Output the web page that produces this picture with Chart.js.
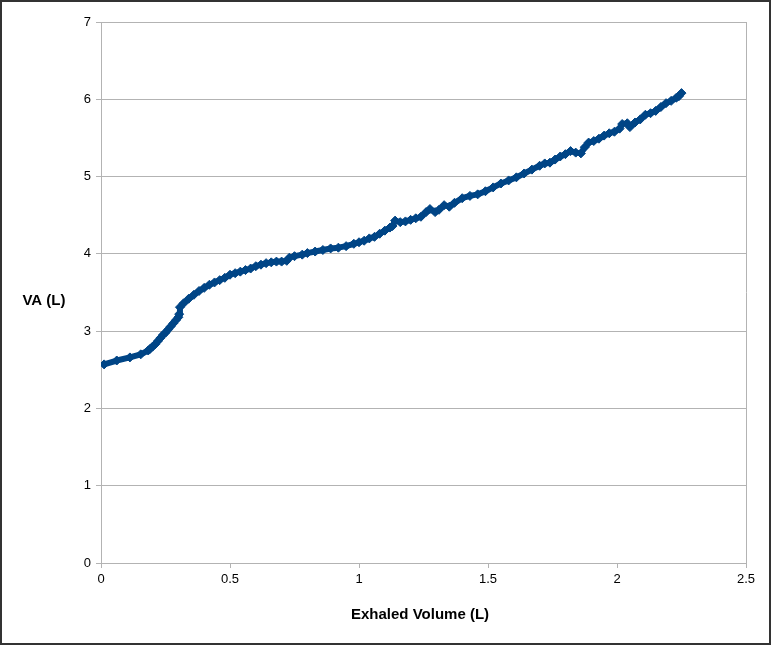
<!DOCTYPE html>
<html>
<head>
<meta charset="utf-8">
<script src="https://cdn.jsdelivr.net/npm/chart.js@4.4.0/dist/chart.umd.min.js"></script>
<style>
  html, body { margin: 0; padding: 0; background: #fff; }
  #wrap { width: 771px; height: 645px; }
</style>
</head>
<body>
<div id="wrap"><canvas id="myChart" width="771" height="645"></canvas></div>
<script>
// exhaled volume (L) and VA (L)
const exhaledVolume = [
    0.012, 0.061, 0.112, 0.154, 0.183, 0.19, 0.20, 0.21, 0.22, 0.23,
    0.24, 0.25, 0.26, 0.27, 0.28, 0.29, 0.30, 0.303, 0.306, 0.32,
    0.34, 0.36, 0.38, 0.40, 0.42, 0.44, 0.46, 0.48, 0.50, 0.52,
    0.54, 0.56, 0.58, 0.60, 0.62, 0.64, 0.66, 0.68, 0.70, 0.72,
    0.73, 0.75, 0.78, 0.80, 0.83, 0.86, 0.89, 0.92, 0.95, 0.98,
    1.00, 1.02, 1.04, 1.06, 1.08, 1.10, 1.12, 1.13, 1.14, 1.16,
    1.18, 1.20, 1.22, 1.24, 1.26, 1.275, 1.295, 1.31, 1.33, 1.35,
    1.37, 1.40, 1.43, 1.46, 1.49, 1.52, 1.55, 1.58, 1.61, 1.64,
    1.67, 1.70, 1.72, 1.74, 1.76, 1.78, 1.80, 1.82, 1.84, 1.86,
    1.875, 1.89, 1.91, 1.93, 1.95, 1.97, 1.99, 2.01, 2.02, 2.04,
    2.05, 2.07, 2.09, 2.11, 2.13, 2.15, 2.17, 2.19, 2.21, 2.23,
    2.24, 2.25
];
const alveolarVolume = [
    2.57, 2.62, 2.66, 2.70, 2.75, 2.77, 2.80, 2.83, 2.87, 2.91,
    2.95, 2.98, 3.02, 3.06, 3.10, 3.14, 3.18, 3.22, 3.31, 3.36,
    3.42, 3.47, 3.52, 3.56, 3.60, 3.63, 3.66, 3.69, 3.73, 3.75,
    3.77, 3.79, 3.81, 3.84, 3.86, 3.88, 3.89, 3.90, 3.90, 3.91,
    3.95, 3.97, 3.99, 4.01, 4.03, 4.05, 4.07, 4.08, 4.10, 4.13,
    4.15, 4.17, 4.20, 4.22, 4.26, 4.30, 4.34, 4.36, 4.43, 4.41,
    4.42, 4.44, 4.46, 4.48, 4.54, 4.58, 4.54, 4.57, 4.63, 4.61,
    4.66, 4.72, 4.75, 4.77, 4.81, 4.86, 4.91, 4.95, 4.99, 5.04,
    5.09, 5.14, 5.17, 5.18, 5.22, 5.26, 5.29, 5.33, 5.31, 5.30,
    5.38, 5.44, 5.46, 5.49, 5.53, 5.56, 5.58, 5.62, 5.68, 5.69,
    5.64, 5.70, 5.74, 5.80, 5.82, 5.85, 5.90, 5.95, 5.98, 6.02,
    6.04, 6.08
];
const xTickLabels = ['0', '0.5', '1', '1.5', '2', '2.5'];
const yTickLabels = ['0', '1', '2', '3', '4', '5', '6', '7'];
const xTitle = 'Exhaled Volume (L)';
const yTitle = 'VA (L)';

const points = exhaledVolume.map((x, i) => ({x: x, y: alveolarVolume[i]}));

const FONT = '"Liberation Sans", Arial, sans-serif';
const GRID = '#b3b3b3';
const BLUE = '#004586';

// frame, right border and the two axis titles
const extras = {
    id: 'extras',
    afterDraw(chart) {
        const c = chart.ctx;
        const a = chart.chartArea;
        c.save();
        c.strokeStyle = GRID;
        c.lineWidth = 1;
        c.beginPath();
        c.moveTo(Math.round(a.right) + 0.5, a.top);
        c.lineTo(Math.round(a.right) + 0.5, a.bottom);
        c.stroke();

        c.fillStyle = '#000';
        c.font = 'bold 15px ' + FONT;
        c.textAlign = 'center';
        c.textBaseline = 'middle';
        c.fillText(xTitle, 420, 615);
        c.fillText(yTitle, 44, 301);

        c.strokeStyle = '#333';
        c.lineWidth = 2;
        c.strokeRect(1, 1, chart.width - 2, chart.height - 2);
        c.restore();
    }
};

new Chart(document.getElementById('myChart'), {
    type: 'scatter',
    plugins: [extras],
    data: {
        datasets: [{
            data: points,
            showLine: true,
            borderColor: BLUE,
            backgroundColor: BLUE,
            borderWidth: 6,
            pointStyle: 'rectRot',
            pointRadius: 4.5,
            pointBorderWidth: 1,
            borderJoinStyle: 'round',
            tension: 0
        }]
    },
    options: {
        responsive: false,
        animation: false,
        layout: {padding: {top: 22, right: 25, left: 0, bottom: 0}},
        plugins: {legend: {display: false}, tooltip: {enabled: false}},
        scales: {
            x: {
                type: 'linear',
                min: 0,
                max: 2.5,
                afterFit: s => { s.height = 82; },
                ticks: {
                    stepSize: 0.5,
                    padding: 4,
                    color: '#000',
                    font: {family: FONT, size: 13},
                    callback: (v, i) => xTickLabels[i]
                },
                grid: {drawOnChartArea: false, drawTicks: true, tickLength: 5, color: GRID},
                border: {color: GRID}
            },
            y: {
                min: 0,
                max: 7,
                afterFit: s => { s.width = 101; },
                ticks: {
                    stepSize: 1,
                    padding: 5,
                    color: '#000',
                    font: {family: FONT, size: 13},
                    callback: (v, i) => yTickLabels[i]
                },
                grid: {color: GRID, tickLength: 5},
                border: {color: GRID}
            }
        }
    }
});
</script>
</body>
</html>
